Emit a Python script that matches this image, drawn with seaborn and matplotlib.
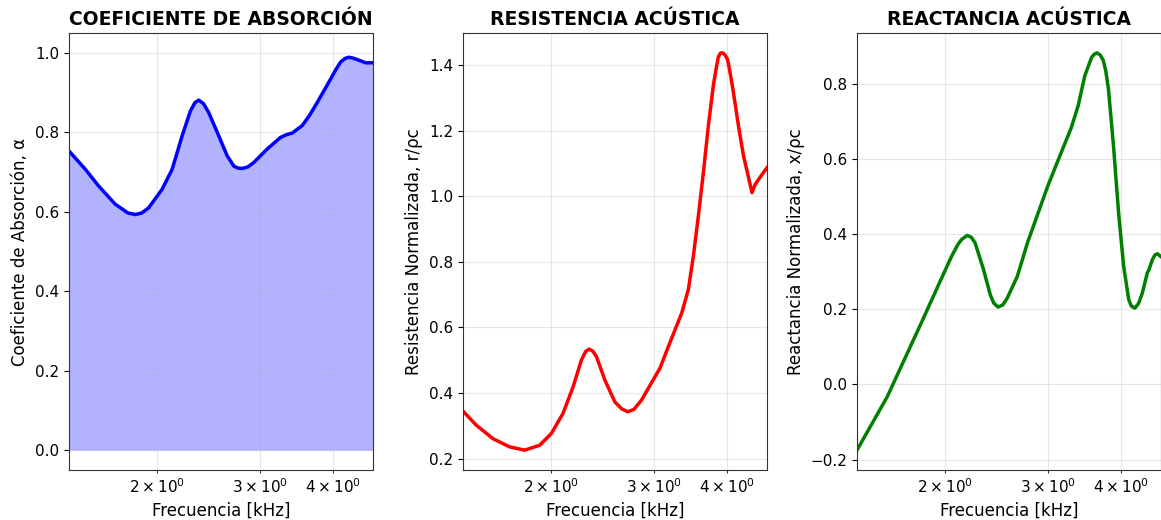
import numpy as np
import pandas as pd
import matplotlib
matplotlib.use('Agg')
import matplotlib.pyplot as plt
import seaborn as sns

# Values (frequency in kHz)
freq_alpha = [1.41, 1.504, 1.585, 1.693, 1.78, 1.833, 1.88, 1.932, 2.038, 2.120, 2.205,
              2.279, 2.32, 2.355, 2.40, 2.449, 2.549, 2.635, 2.705, 2.75, 2.796, 2.86,
              2.927, 3.087, 3.253, 3.33, 3.407, 3.545, 3.65, 3.762, 3.966, 4.05, 4.126,
              4.20, 4.264, 4.33, 4.408, 4.555, 4.69]
alpha = [0.753, 0.707, 0.665, 0.619, 0.597, 0.593, 0.597, 0.610, 0.657, 0.707, 0.791,
         0.854, 0.875, 0.881, 0.872, 0.850, 0.791, 0.741, 0.715, 0.710, 0.709, 0.713,
         0.724, 0.758, 0.787, 0.794, 0.798, 0.817, 0.843, 0.875, 0.934, 0.958, 0.977,
         0.986, 0.989, 0.987, 0.983, 0.975, 0.975]

freq_r = [1.41, 1.486, 1.587, 1.695, 1.799, 1.910, 2.0, 2.094, 2.179, 2.252, 2.29,
          2.321, 2.355, 2.390, 2.470, 2.570, 2.64, 2.703, 2.77, 2.857, 3.072, 3.217,
          3.348, 3.436, 3.505, 3.575, 3.647, 3.719, 3.793, 3.835, 3.869, 3.90, 3.938,
          3.97, 4.011, 4.05, 4.098, 4.19, 4.274, 4.36, 4.419, 4.477, 4.58, 4.69]
resistencia = [0.345, 0.302, 0.261, 0.236, 0.226, 0.241, 0.277, 0.338, 0.419, 0.501, 0.527,
               0.534, 0.528, 0.511, 0.440, 0.373, 0.352, 0.343, 0.350, 0.379, 0.476, 0.567,
               0.644, 0.715, 0.817, 0.939, 1.072, 1.214, 1.337, 1.388, 1.424, 1.436, 1.437,
               1.431, 1.418, 1.380, 1.327, 1.214, 1.123, 1.057, 1.011, 1.036, 1.062, 1.087]

freq_x = [1.41, 1.589, 1.699, 1.817, 1.941, 2.049, 2.10, 2.132, 2.181, 2.215, 2.249,
          2.325, 2.388, 2.42, 2.463, 2.51, 2.554, 2.658, 2.766, 2.997, 3.162, 3.29,
          3.38, 3.47, 3.565, 3.60, 3.641, 3.69, 3.735, 3.77, 3.81, 3.887, 3.966, 4.046,
          4.128, 4.17, 4.228, 4.29, 4.355, 4.443, 4.473, 4.532, 4.58, 4.624, 4.717]
reactancia = [-0.175, -0.033, 0.065, 0.163, 0.261, 0.341, 0.372, 0.386, 0.397, 0.392, 0.377,
              0.306, 0.239, 0.217, 0.206, 0.212, 0.230, 0.288, 0.377, 0.528, 0.618, 0.684,
              0.742, 0.822, 0.871, 0.879, 0.883, 0.877, 0.862, 0.835, 0.787, 0.635, 0.457,
              0.315, 0.226, 0.209, 0.203, 0.215, 0.243, 0.297, 0.306, 0.332, 0.345, 0.348,
              0.337]

titles = ['COEFICIENTE DE ABSORCIÓN', 'RESISTENCIA ACÚSTICA', 'REACTANCIA ACÚSTICA']
ylabels = ['Coeficiente de Absorción, α', 'Resistencia Normalizada, r/ρc',
           'Reactancia Normalizada, x/ρc']

plt.rcParams['font.family'] = ['DejaVu Sans']

fig, axes = plt.subplots(1, 3, figsize=(11.61, 5.2), dpi=100)
fig.subplots_adjust(left=69 / 1161, right=1.0, bottom=50 / 520, top=1 - 33 / 520,
                    wspace=0.296)

# Absorption coefficient with filled area
ax = axes[0]
sns.lineplot(x=freq_alpha, y=alpha, ax=ax, color='blue', linewidth=2.5, sort=False)
ax.fill_between(freq_alpha, 0, alpha, color='blue', alpha=0.3, linewidth=0)
ax.set_ylim(-0.05, 1.05)

# Resistance
sns.lineplot(x=freq_r, y=resistencia, ax=axes[1], color='red', linewidth=2.5, sort=False)

# Reactance
sns.lineplot(x=freq_x, y=reactancia, ax=axes[2], color='green', linewidth=2.5, sort=False)

for ax, t, yl in zip(axes, titles, ylabels):
    ax.set_xscale('log')
    ax.set_xlim(1.41, 4.69)
    ax.set_title(t, fontsize=13.5, fontweight='bold')
    ax.set_xlabel('Frecuencia [kHz]', fontsize=12)
    ax.set_ylabel(yl, fontsize=12)
    ax.tick_params(labelsize=11, which='both')
    ax.grid(True, which='both', alpha=0.3)
    for s in ax.spines.values():
        s.set_color('#333333')

fig.savefig('out.png', dpi=100)
